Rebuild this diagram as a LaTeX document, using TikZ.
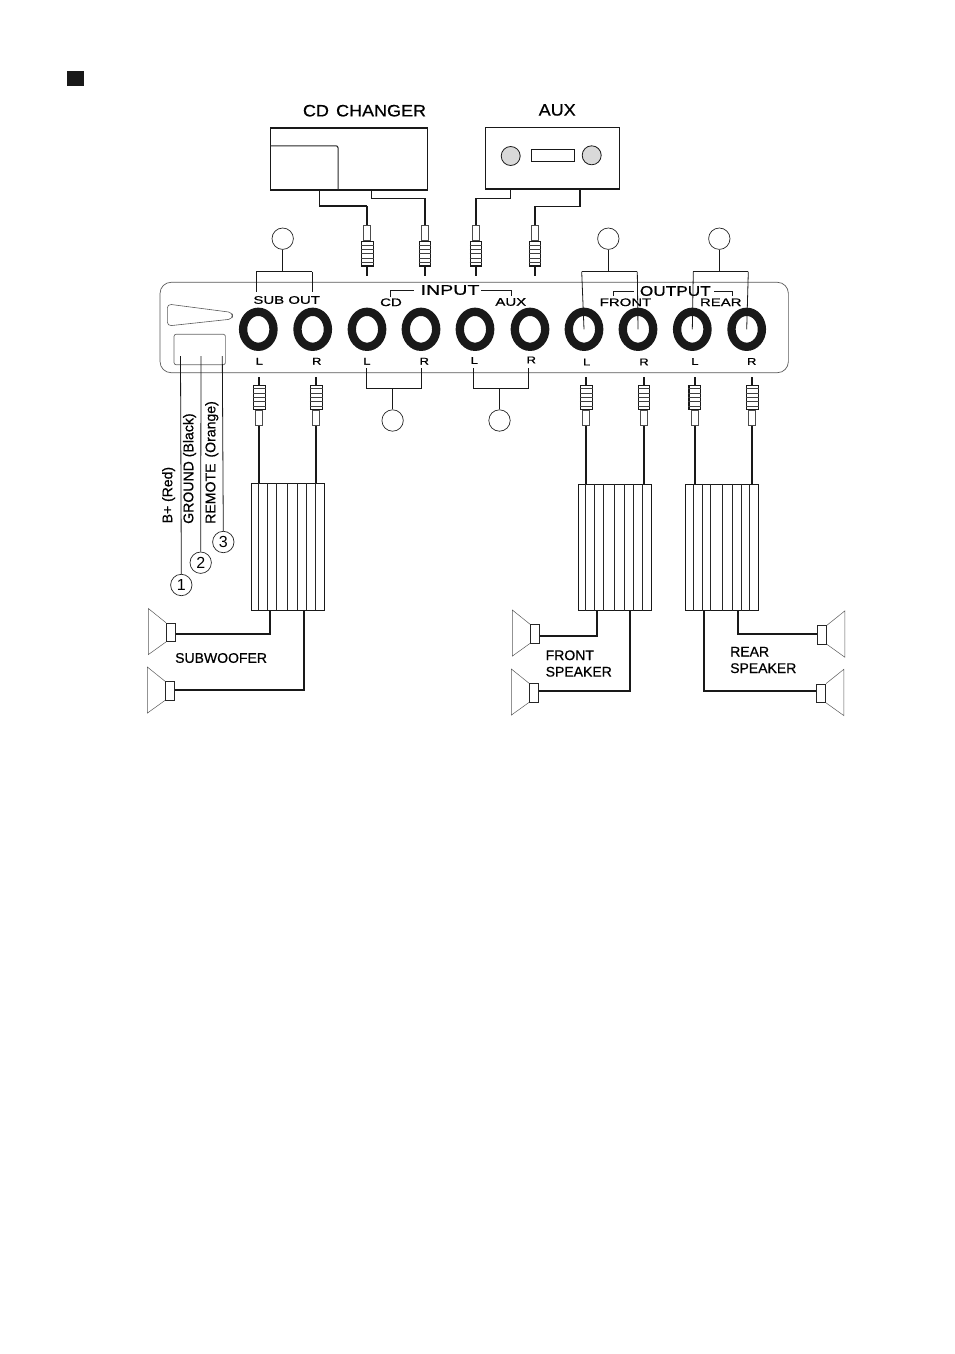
\documentclass[tikz,border=0pt]{standalone}
\usepackage{fontspec}
\setmainfont{Liberation Sans}
\newfontfamily\heavyfont{Liberation Sans}[FakeBold=0.6]
\usetikzlibrary{positioning,shapes.geometric}
\tikzset{
  thinline/.style={line width=0.7pt,black!85},
  leadwire/.style={line width=1.1pt,black!90},
  wire/.style={line width=1.7pt,black!90},
  heavywire/.style={line width=2.3pt,black!90},
  bracket/.style={line width=0.8pt,black!90},
  heavybracket/.style={line width=1.5pt,black!90},
  jack/.style={ellipse,draw=black!90,fill=white,line width=8.3pt,minimum width=30.4pt,minimum height=35pt,inner sep=0pt},
  tagcircle/.style={circle,draw=black!85,fill=white,line width=0.7pt,minimum size=21.4pt,inner sep=0pt,font=\fontsize{16}{16}\selectfont},
  plugbody/.style={rectangle,draw=black!90,fill=white,line width=1.2pt,minimum width=11.6pt,minimum height=24.5pt,inner sep=0pt},
  plugband/.style={line width=1pt,black!75},
  plugcollar/.style={rectangle,draw=black!70,fill=white,line width=1pt,minimum width=6.8pt,minimum height=15pt,inner sep=0pt},
  magnet/.style={rectangle,draw=black!85,fill=white,line width=0.7pt,minimum width=9.4pt,minimum height=18.6pt,inner sep=0pt},
  cone/.style={line width=0.5pt,black!65},
  amp/.style={rectangle,draw=black!90,line width=0.7pt,minimum width=72.8pt,minimum height=126.4pt,inner sep=0pt},
  big/.style={font=\fontsize{16.5}{16.5}\heavyfont,inner sep=0pt,xscale=1.09},
  mid/.style={font=\fontsize{14}{14}\heavyfont,inner sep=0pt},
  small/.style={font=\fontsize{11}{11}\heavyfont,inner sep=0pt,xscale=1.36},
  pole/.style={font=\fontsize{10}{10}\heavyfont,inner sep=0pt,xscale=1.3},
  note/.style={font=\fontsize{14}{14}\heavyfont,align=left,inner sep=0pt,anchor=west},
  wirename/.style={font=\fontsize{14.1}{14.1}\heavyfont,inner sep=0pt,rotate=90,anchor=west},
}
\begin{document}
\begin{tikzpicture}[x=1pt,y=-1pt]
\useasboundingbox (0,0) rectangle (954,1354);
\node (mark) [rectangle,fill=black!90,minimum width=17pt,minimum height=15pt,inner sep=0pt] at (75.5,78.5) {};

\node (cdname) [big] at (364.5,110.7) {CD\hspace{2pt} CHANGER};
\node (auxname) [big] at (557.2,110) {AUX};
\node (cd) [rectangle,draw=black!90,line width=1.4pt,minimum width=156.6pt,minimum height=62pt,inner sep=0pt] at (349,159) {};
\draw[thinline,line width=1pt,rounded corners=2pt] (cd.west |- 0,145.8) -- (338,145.8) -- (338,190);
\node (aux) [rectangle,draw=black!90,line width=1.4pt,minimum width=133.6pt,minimum height=61.7pt,inner sep=0pt] at (552.5,158.2) {};
\node (auxl) [circle,draw=black!90,fill=black!15,line width=0.8pt,minimum size=19pt,inner sep=0pt] at (510.7,156) {};
\node (auxr) [circle,draw=black!90,fill=black!15,line width=0.8pt,minimum size=19pt,inner sep=0pt] at (591.7,155.3) {};
\node (auxs) [rectangle,draw=black!90,line width=0.9pt,minimum width=43pt,minimum height=11.7pt,inner sep=0pt] at (552.8,155.2) {};

\node (panel) [rectangle,draw=black!65,rounded corners=11pt,line width=0.7pt,minimum width=628.3pt,minimum height=90.4pt,inner sep=0pt] at (474.2,327.5) {};
\draw[cone,line width=0.6pt,rounded corners=4pt] (167.3,304) -- (232.5,312.5) -- (232.5,319) -- (167.3,326) -- cycle;
\node (power) [rectangle,draw=black!60,rounded corners=2pt,line width=0.7pt,minimum width=51.3pt,minimum height=30.4pt,inner sep=0pt] at (199.7,349.5) {};

\foreach \name/\x in {ja/258.3,jb/312.7,jc/367,jd/421,je/475,jf/530,jg/584,jh/638,ji/692.3,jj/746.7}
  \node (\name) [jack] at (\x,329.3) {};

\foreach \name/\x/\y/\t in {la/259.3/361.3/L,lb/316.7/361.3/R,lc/367/361.3/L,ld/424.3/361.3/R,le/474.3/360.5/L,lf/531.3/360/R,lg/586.7/362/L,lh/644/362/R,li/695/361.5/L,lj/751.7/361.5/R}
  \node (\name) [pole] at (\x,\y) {\t};

\node (subout) [small] at (286.7,300) {SUB OUT};
\node (cdlab) [small] at (391,302.3) {CD};
\node (auxlab) [small] at (510.8,302) {AUX};
\node (frontlab) [small] at (625.5,302.3) {FRONT};
\node (rearlab) [small] at (720.8,302.3) {REAR};
\node (input) [mid,xscale=1.4] at (450,290) {INPUT};
\node (output) [mid,xscale=1.23] at (675.3,291) {OUTPUT};
\draw[bracket] (390.7,297) |- ([xshift=-6pt]input.west);
\draw[bracket] (511.7,295.5) |- ([xshift=1pt]input.east);
\draw[bracket] (613.3,296) |- ([xshift=-6pt]output.west);
\draw[bracket] (732.7,296) |- ([xshift=3pt]output.east);

\node (tsub) [tagcircle] at (282.7,238.7) {};
\node (tfront) [tagcircle] at (608.3,238.7) {};
\node (trear) [tagcircle] at (719.3,238.7) {};
\node (tcd) [tagcircle] at (392.6,420.5) {};
\node (taux) [tagcircle] at (499.5,420.5) {};

\draw[bracket] (tsub) -- (282.7,271.7);
\draw[heavybracket] (256.3,271.7) -- (312,271.7);
\draw[bracket] (256.3,271.7) -- (256.3,291.7);
\draw[bracket] (312,271.7) -- (312,291.7);
\draw[bracket] (tfront) -- (608.3,271.7);
\draw[heavybracket] (581.7,271.7) -- (637.3,271.7);
\draw[bracket] (581.7,271.7) -- (jg.center);
\draw[bracket] (637.3,271.7) -- (jh.center);
\draw[bracket] (trear) -- (719.3,271.7);
\draw[heavybracket] (693.3,271.7) -- (748.3,271.7);
\draw[bracket] (693.3,271.7) -- (ji.center);
\draw[bracket] (748.3,271.7) -- (jj.center);
\draw[bracket] (tcd) -- (392.6,388.3);
\draw[bracket] (366.7,368) |- (421.7,388.3) -- (421.7,368);
\draw[bracket] (taux) -- (499.5,388.3);
\draw[bracket] (473.3,368) |- (528.3,388.3) -- (528.3,368);

\foreach \name/\x in {pa/367.3,pb/425,pc/476,pd/535}{
  \node (\name) [plugbody] at (\x,253.8) {};
  \node (\name c) [plugcollar,above=0pt of \name] {};
  \draw[heavywire] (\name.south) -- ++(0,9);
  \foreach \s in {-8.6,-4.3,0,4.3,8.6}
    \draw[plugband] ([yshift=\s pt]\name.west) -- ([yshift=\s pt]\name.east);
}
\foreach \name/\x in {qa/259.3,qb/316.3,qc/586.3,qd/644,qe/694.7,qf/752.3}{
  \node (\name) [plugbody] at (\x,397.5) {};
  \node (\name c) [plugcollar,below=0pt of \name] {};
  \draw[heavywire] (\name.north) -- ++(0,-8);
  \foreach \s in {-8.6,-4.3,0,4.3,8.6}
    \draw[plugband] ([yshift=\s pt]\name.west) -- ([yshift=\s pt]\name.east);
}

\coordinate (cda) at (319.3,190);
\coordinate (cdb) at (371.7,190);
\coordinate (auxa) at (510.3,189);
\coordinate (auxb) at (580,189);
\draw[leadwire] (cda) -- (319.3,206) -- (367.3,206);
\draw[wire] (367.3,206) -- (pac.north);
\draw[leadwire] (cdb) -- (371.7,198.3) -- (425,198.3);
\draw[wire] (425,198.3) -- (pbc.north);
\draw[leadwire] (auxa) -- (510.3,198.3) -- (476,198.3) -- (pcc.north);
\draw[leadwire] (auxb) -- (580,206.7) -- (535,206.7) -- (pdc.north);

\node (ampsub) [amp] at (287.5,546.8) {};
\node (ampfront) [amp] at (614.5,547.3) {};
\node (amprear) [amp,minimum width=73.4pt] at (722,547.3) {};
\foreach \a in {ampsub,ampfront,amprear}
  \foreach \s in {8,17,25.5,37,47,56,64.5}
    \draw[thinline] ([xshift=\s pt]\a.north west) -- ([xshift=\s pt]\a.south west);

\draw[wire] (qac.south) -- (qac.south |- ampsub.north);
\draw[heavywire] (qbc.south) -- (qbc.south |- ampsub.north);
\draw[heavywire] (qcc.south) -- (qcc.south |- ampfront.north);
\draw[wire] (qdc.south) -- (qdc.south |- ampfront.north);
\draw[heavywire] (qec.south) -- (qec.south |- amprear.north);
\draw[wire] (qfc.south) -- (qfc.south |- amprear.north);

\foreach \name/\x/\y/\side/\d in {sa/171/632.3/west/-1,sb/170/690.8/west/-1,sc/535/633.8/west/-1,sd/534/692.8/west/-1,se/822/634.8/east/1,sf/821/693.2/east/1}{
  \node (\name) [magnet] at (\x,\y) {};
  \draw[cone] (\name.north \side) -- ++(\d*17.7,-14.2) -- ++(0,46.2) -- (\name.south \side);
}

\coordinate (taba) at (269.7,610.3);
\coordinate (tabb) at (303.7,610.3);
\coordinate (tabc) at (596.7,610.3);
\coordinate (tabd) at (630.3,610.3);
\coordinate (tabe) at (738,610.3);
\coordinate (tabf) at (703.7,610.3);
\draw[heavywire] ([yshift=-1.4pt]sa.east) -| (taba);
\draw[heavywire] ([yshift=0.5pt]sb.east) -| (tabb);
\draw[heavywire] ([yshift=-2.2pt]sc.east) -| (tabc);
\draw[heavywire] ([yshift=1.5pt]sd.east) -| (tabd);
\draw[heavywire] ([yshift=0.8pt]se.west) -| (tabe);
\draw[heavywire] ([yshift=2.2pt]sf.west) -| (tabf);

\node (subname) [note] at (175,658) {SUBWOOFER};
\node (frontname) [note,text width=80pt] at (545.5,663.5) {FRONT\\[2.5pt]SPEAKER};
\node (rearname) [note,text width=80pt] at (730,660) {REAR\\[2.5pt]SPEAKER};

\node (one) [tagcircle] at (181.3,585) {1};
\node (two) [tagcircle] at (200.7,562.7) {2};
\node (three) [tagcircle] at (223.3,542) {3};
\draw[bracket] (180.5,356) -- (one.north);
\draw[bracket] (201,356) -- (two.north);
\draw[bracket] (222.3,356) -- (three.north);
\node (bplus) [wirename,font=\fontsize{14}{14}\heavyfont] at (168.6,523.5) {B+ (Red)};
\node (ground) [wirename] at (189.6,524) {GROUND (Black)};
\node (remote) [wirename] at (211.7,524) {REMOTE\hspace{2pt} (Orange)};
\end{tikzpicture}
\end{document}
